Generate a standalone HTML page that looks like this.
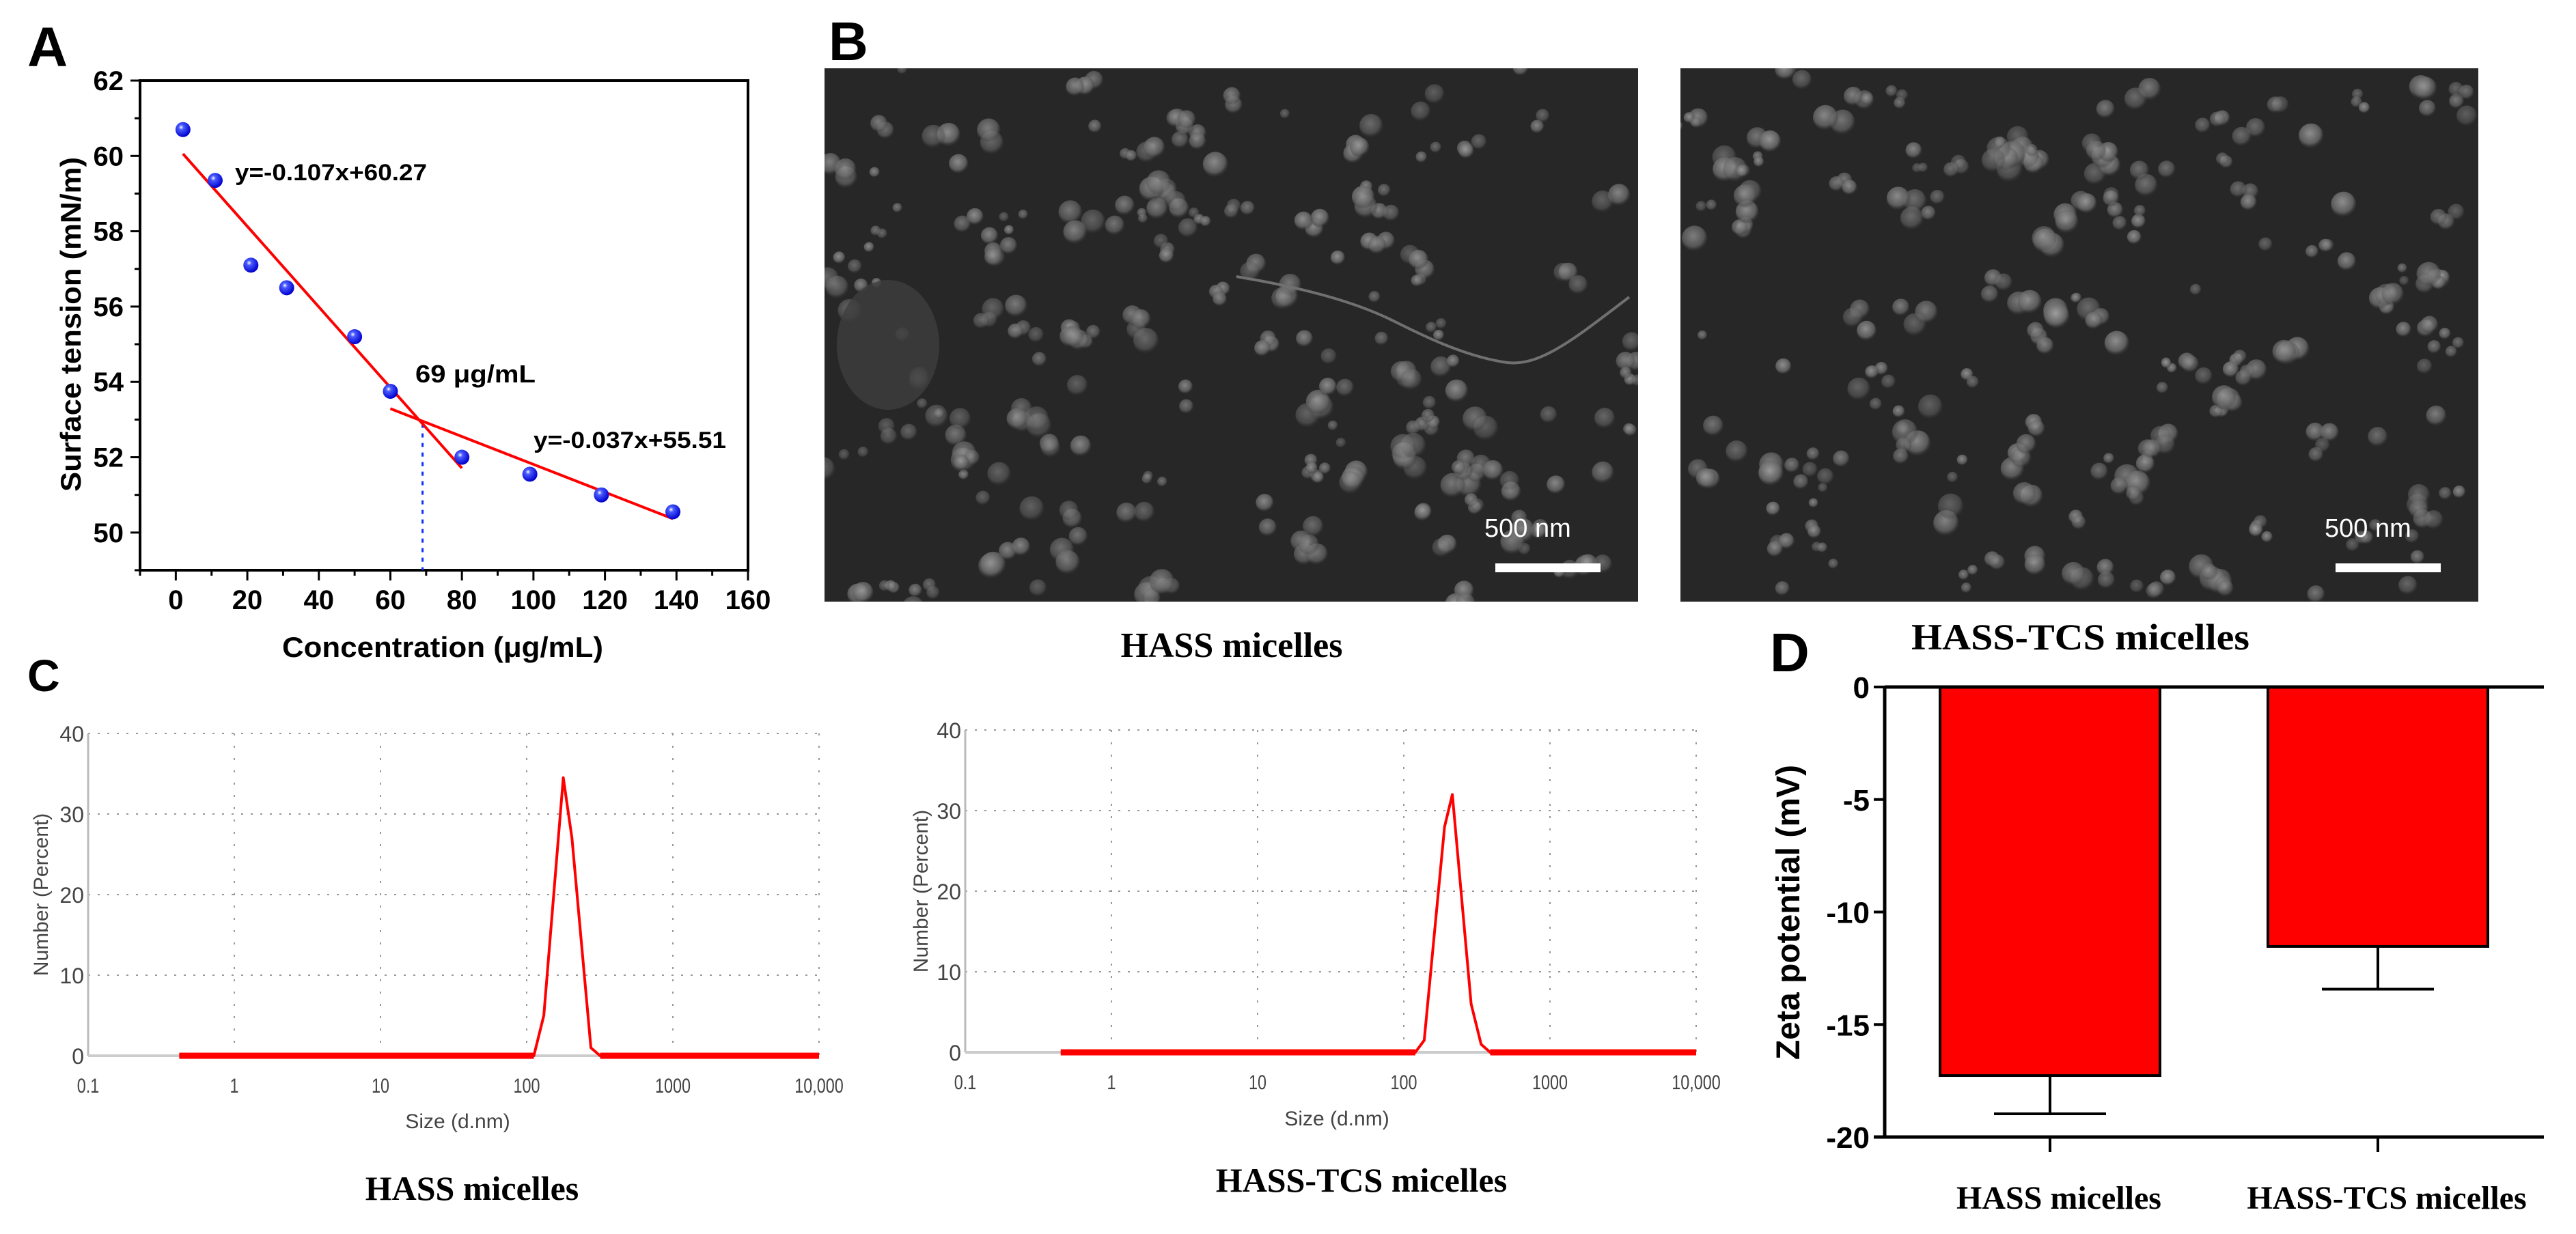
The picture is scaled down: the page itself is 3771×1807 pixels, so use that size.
<!DOCTYPE html>
<html><head><meta charset="utf-8"><style>
html,body{margin:0;padding:0;background:#fff;}
svg{display:block;}
</style></head><body>
<svg id="fig" xmlns="http://www.w3.org/2000/svg" width="3771" height="1807" viewBox="0 0 3771 1807">
<defs>
<radialGradient id="ball" cx="0.38" cy="0.35" r="0.65">
<stop offset="0" stop-color="#ffffff"/><stop offset="0.25" stop-color="#4a5cff"/><stop offset="1" stop-color="#0000cc"/>
</radialGradient>
<radialGradient id="blob" cx="0.45" cy="0.4" r="0.6">
<stop offset="0" stop-color="#a0a0a0"/><stop offset="0.7" stop-color="#666"/><stop offset="1" stop-color="#333" stop-opacity="0.2"/>
</radialGradient>
</defs>
<g id="gA"></g>
<g id="gB"></g>
<g id="gC"></g>
<g id="gD"></g>
</svg>
<script>
// ---- Panel A data ----
const aConc = [2, 11, 21, 31, 50, 60, 80, 99, 119, 139];
const aTension = [60.7, 59.35, 57.1, 56.5, 55.2, 53.75, 52.0, 51.55, 51.0, 50.55];
const aFit1 = [-0.107, 60.27, 2, 80];
const aFit2 = [-0.037, 55.51, 60, 139];
const aCmc = [69];
const aYTicks = [50, 52, 54, 56, 58, 60, 62];
const aXTicks = [0, 20, 40, 60, 80, 100, 120, 140, 160];
// ---- Panel C data ----
const cSizes1 = [0.42, 112, 131, 178, 204, 275, 318, 10000];
const cNumber1 = [0, 0, 5, 34.5, 27, 1, 0, 0];
const cSizes2 = [0.45, 120, 138, 190, 215, 289, 338, 390, 10000];
const cNumber2 = [0, 0, 1.5, 28, 32, 6, 1, 0, 0];
const cYTicks = [0, 10, 20, 30, 40];
const cXTicks = [0.1, 1, 10, 100, 1000, 10000];
const cXLabels = ["0.1", "1", "10", "100", "1000", "10,000"];
// ---- Panel D data ----
const dGroups = ["HASS micelles", "HASS-TCS micelles"];
const dMeans = [-17.27, -11.53];
const dErrors = [1.7, 1.9];
const dYTicks = [0, -5, -10, -15, -20];

const NS = "http://www.w3.org/2000/svg";
function mk(parent, tag, attrs, text) {
  const e = document.createElementNS(NS, tag);
  for (const k in attrs) e.setAttribute(k, attrs[k]);
  if (text !== undefined) e.textContent = text;
  parent.appendChild(e);
  return e;
}
const SANS = "'Liberation Sans', Arial, sans-serif";
const SERIF = "'Liberation Serif', 'Times New Roman', serif";

// ================= Panel A =================
(function () {
  const g = document.getElementById('gA');
  const L = 205, R = 1095, T = 118, B = 835;
  const xmin = -10, xmax = 160, ymin = 49, ymax = 62;
  const X = v => L + (v - xmin) / (xmax - xmin) * (R - L);
  const Y = v => B - (v - ymin) / (ymax - ymin) * (B - T);
  let e;
  e = mk(g, 'text', {x: 40, y: 97, 'font-family': SANS, 'font-weight': 'bold', 'font-size': 82, fill: '#000'}, 'A');
  
  
  e = mk(g, 'rect', {x: L, y: T, width: R - L, height: B - T, fill: 'none', stroke: '#000', 'stroke-width': 4});
  
  
  for (let v = 49; v <= 62; v++) {
    const major = aYTicks.indexOf(v) >= 0;
    e = mk(g, 'line', {x1: L - (major ? 14 : 8), x2: L, y1: Y(v), y2: Y(v), stroke: '#000', 'stroke-width': 3});
    
    
  }
  aYTicks.forEach(v => {
    e = mk(g, 'text', {x: 181, y: Y(v) + 14, 'text-anchor': 'end', 'font-family': SANS, 'font-weight': 'bold', 'font-size': 40}, String(v));
    
    
  });
  for (let v = -10; v <= 160; v += 10) {
    const major = aXTicks.indexOf(v) >= 0;
    e = mk(g, 'line', {x1: X(v), x2: X(v), y1: B, y2: B + (major ? 15 : 8), stroke: '#000', 'stroke-width': 3});
    
    
  }
  aXTicks.forEach(v => {
    e = mk(g, 'text', {x: X(v), y: 892, 'text-anchor': 'middle', 'font-family': SANS, 'font-weight': 'bold', 'font-size': 40}, String(v));
    
    
  });
  e = mk(g, 'text', {x: 648, y: 962, 'text-anchor': 'middle', 'font-family': SANS, 'font-weight': 'bold', 'font-size': 42, textLength: 470, lengthAdjust: 'spacingAndGlyphs'}, 'Concentration (μg/mL)');
  
  
  e = mk(g, 'text', {x: 0, y: 0, transform: 'translate(118,475) rotate(-90)', 'text-anchor': 'middle', 'font-family': SANS, 'font-weight': 'bold', 'font-size': 42, textLength: 490, lengthAdjust: 'spacingAndGlyphs'}, 'Surface tension (mN/m)');
  
  
  const cy = aFit1[0] * aCmc[0] + aFit1[1];
  e = mk(g, 'line', {x1: X(aCmc[0]), x2: X(aCmc[0]), y1: Y(cy), y2: B, stroke: '#1030ff', 'stroke-width': 3, 'stroke-dasharray': '6,8'});
  
  
  [aFit1, aFit2].forEach((f, i) => {
    e = mk(g, 'line', {x1: X(f[2]), y1: Y(f[0] * f[2] + f[1]), x2: X(f[3]), y2: Y(f[0] * f[3] + f[1]), stroke: '#ff0000', 'stroke-width': 4});
    
    
  });
  aConc.forEach((c, i) => {
    e = mk(g, 'circle', {cx: X(c), cy: Y(aTension[i]), r: 11, fill: 'url(#ball)'});
    
    
  });
  e = mk(g, 'text', {x: 344, y: 264, 'font-family': SANS, 'font-weight': 'bold', 'font-size': 34, textLength: 281, lengthAdjust: 'spacingAndGlyphs'}, 'y=-0.107x+60.27');
  
  
  e = mk(g, 'text', {x: 608, y: 560, 'font-family': SANS, 'font-weight': 'bold', 'font-size': 36, textLength: 176, lengthAdjust: 'spacingAndGlyphs'}, '69 μg/mL');
  
  
  e = mk(g, 'text', {x: 781, y: 656, 'font-family': SANS, 'font-weight': 'bold', 'font-size': 34, textLength: 282, lengthAdjust: 'spacingAndGlyphs'}, 'y=-0.037x+55.51');
  
  
})();

// ================= Panel B (SEM images, decorative texture) =================
(function () {
  const g = document.getElementById('gB');
  let e;
  e = mk(g, 'text', {x: 1213, y: 88, 'font-family': SANS, 'font-weight': 'bold', 'font-size': 80}, 'B');
  
  
  const imgs = [
    {x: 1207, w: 1191, seed: 7, name: 'sem-image-hass', bx: 2189, tx: 2173},
    {x: 2460, w: 1168, seed: 19, name: 'sem-image-hass-tcs', bx: 3419, tx: 3403}
  ];
  imgs.forEach(im => {
    const sg = mk(g, 'g', {});
    
    
    mk(sg, 'rect', {x: im.x, y: 100, width: im.w, height: 781, fill: '#272727'});
    let s = im.seed;
    const rnd = () => { s = (s * 1103515245 + 12345) % 2147483648; return s / 2147483648; };
    const clip = 'c' + im.seed;
    const cp = mk(sg, 'clipPath', {id: clip});
    mk(cp, 'rect', {x: im.x, y: 100, width: im.w, height: 781});
    const bg = mk(sg, 'g', {'clip-path': 'url(#' + clip + ')'});
    for (let k = 0; k < 150; k++) {
      const cx = im.x + rnd() * im.w, cy = 100 + rnd() * 781;
      const r = 7 + rnd() * 12;
      const n = 1 + Math.floor(rnd() * 3);
      for (let j = 0; j < n; j++) {
        mk(bg, 'circle', {cx: cx + (rnd() - 0.5) * 34, cy: cy + (rnd() - 0.5) * 34, r: r, fill: 'url(#blob)', opacity: 0.45 + rnd() * 0.4});
      }
    }
    if (im.seed === 7) {
      mk(bg, 'path', {d: 'M1810 405 C1900 420 1980 440 2040 470 C2080 490 2140 520 2200 530 C2250 540 2300 500 2385 435', fill: 'none', stroke: '#707070', 'stroke-width': 4});
      mk(bg, 'ellipse', {cx: 1300, cy: 505, rx: 75, ry: 95, fill: '#3e3e3e', opacity: 0.8});
    }
    e = mk(sg, 'rect', {x: im.bx, y: 825, width: 154, height: 13, fill: '#fff'});
    
    
    e = mk(sg, 'text', {x: im.tx, y: 786, 'font-family': SANS, 'font-size': 38, fill: '#fff'}, '500 nm');
    
    
  });
  e = mk(g, 'text', {x: 1803, y: 962, 'text-anchor': 'middle', 'font-family': SERIF, 'font-weight': 'bold', 'font-size': 52}, 'HASS micelles');
  
  
  e = mk(g, 'text', {x: 2798, y: 951, 'font-family': SERIF, 'font-weight': 'bold', 'font-size': 54, textLength: 495, lengthAdjust: 'spacingAndGlyphs'}, 'HASS-TCS micelles');
  
  
})();

// ================= Panel C =================
(function () {
  const g = document.getElementById('gC');
  let e;
  e = mk(g, 'text', {x: 40, y: 1012, 'font-family': SANS, 'font-weight': 'bold', 'font-size': 66}, 'C');
  
  
  const charts = [
    {L: 129, zero: 1546, sizes: cSizes1, vals: cNumber1, name: 'dls-chart-hass', ytx: 60, cap: 'HASS micelles', capx: 691, capy: 1757, sx: 670, sy: 1652},
    {L: 1413, zero: 1541, sizes: cSizes2, vals: cNumber2, name: 'dls-chart-hass-tcs', ytx: 1348, cap: 'HASS-TCS micelles', capx: 1993, capy: 1745, sx: 1957, sy: 1648}
  ];
  charts.forEach(c => {
    const cg = mk(g, 'g', {});
    
    
    const dec = 214, unit = 11.8;
    const X = v => c.L + (Math.log10(v) + 1) * dec;
    const Y = v => c.zero - v * unit;
    cXTicks.forEach((v, i) => {
      if (i > 0) {
        e = mk(cg, 'line', {x1: X(v), x2: X(v), y1: Y(40), y2: c.zero, stroke: '#999', 'stroke-width': 2, 'stroke-dasharray': '3,15'});
        
        
      }
      e = mk(cg, 'text', {x: X(v), y: c.zero + 54, 'text-anchor': 'middle', 'font-family': "'Liberation Sans Narrow', 'Liberation Sans', sans-serif", 'font-size': 30, fill: '#444', transform: 'translate(' + X(v) + ',0) scale(0.78,1) translate(' + (-X(v)) + ',0)'}, cXLabels[i]);
      
      
    });
    cYTicks.forEach(v => {
      if (v > 0) {
        e = mk(cg, 'line', {x1: c.L, x2: X(10000), y1: Y(v), y2: Y(v), stroke: '#999', 'stroke-width': 2, 'stroke-dasharray': '3,11'});
        
        
      }
      e = mk(cg, 'text', {x: c.L - 6, y: Y(v) + 12, 'text-anchor': 'end', 'font-family': "'Liberation Sans Narrow', 'Liberation Sans', sans-serif", 'font-size': 32, fill: '#444'}, String(v));
      
      
    });
    e = mk(cg, 'line', {x1: c.L, x2: c.L, y1: Y(40), y2: c.zero, stroke: '#bbb', 'stroke-width': 3});
    
    
    e = mk(cg, 'line', {x1: c.L, x2: X(10000), y1: c.zero, y2: c.zero, stroke: '#ccc', 'stroke-width': 4});
    
    
    const pts = c.sizes.map((s, i) => X(s).toFixed(1) + ',' + Y(c.vals[i]).toFixed(1)).join(' ');
    e = mk(cg, 'polyline', {points: pts, fill: 'none', stroke: '#ff0000', 'stroke-width': 4, 'stroke-linejoin': 'round'});
    
    
    const n = c.sizes.length;
    e = mk(cg, 'line', {x1: X(c.sizes[0]), x2: X(c.sizes[1]), y1: Y(0), y2: Y(0), stroke: '#ff0000', 'stroke-width': 9});
    
    
    e = mk(cg, 'line', {x1: X(c.sizes[n - 2]), x2: X(c.sizes[n - 1]), y1: Y(0), y2: Y(0), stroke: '#ff0000', 'stroke-width': 9});
    
    
    e = mk(cg, 'text', {x: 0, y: 0, transform: 'translate(' + (c.ytx + 10) + ',' + Y(20) + ') rotate(-90)', 'text-anchor': 'middle', 'font-family': SANS, 'font-size': 30, fill: '#444'}, 'Number (Percent)');
    
    
    e = mk(cg, 'text', {x: c.sx, y: c.sy, 'text-anchor': 'middle', 'font-family': "'Liberation Sans Narrow', 'Liberation Sans', sans-serif", 'font-size': 30, fill: '#444'}, 'Size (d.nm)');
    
    
    e = mk(cg, 'text', {x: c.capx, y: c.capy, 'text-anchor': 'middle', 'font-family': SERIF, 'font-weight': 'bold', 'font-size': 50}, c.cap);
    
    
  });
})();

// ================= Panel D =================
(function () {
  const g = document.getElementById('gD');
  const L = 2759, R = 3724, T = 1006, B = 1665;
  const Y = v => T + (0 - v) / 20 * (B - T);
  const centers = [3001, 3481];
  const bw = 322;
  let e;
  e = mk(g, 'text', {x: 2591, y: 983, 'font-family': SANS, 'font-weight': 'bold', 'font-size': 80}, 'D');
  
  
  dGroups.forEach((name, i) => {
    const cx = centers[i];
    e = mk(g, 'rect', {x: cx - bw / 2, y: Y(0), width: bw, height: Y(dMeans[i]) - Y(0), fill: '#ff0000', stroke: '#000', 'stroke-width': 4});
    
    
    const ey = Y(dMeans[i] - dErrors[i]);
    e = mk(g, 'line', {x1: cx, x2: cx, y1: Y(dMeans[i]), y2: ey, stroke: '#000', 'stroke-width': 4});
    
    
    e = mk(g, 'line', {x1: cx - 82, x2: cx + 82, y1: ey, y2: ey, stroke: '#000', 'stroke-width': 4});
    
    
    e = mk(g, 'line', {x1: cx, x2: cx, y1: B, y2: B + 22, stroke: '#000', 'stroke-width': 4});
    
    
    e = mk(g, 'text', {x: cx + 13, y: 1770, 'text-anchor': 'middle', 'font-family': SERIF, 'font-weight': 'bold', 'font-size': 48}, name);
    
    
  });
  e = mk(g, 'line', {x1: L, x2: R, y1: T, y2: T, stroke: '#000', 'stroke-width': 5});
  
  
  e = mk(g, 'line', {x1: L - 16, x2: R, y1: B, y2: B, stroke: '#000', 'stroke-width': 5});
  
  
  e = mk(g, 'line', {x1: L, x2: L, y1: T - 2, y2: B + 2, stroke: '#000', 'stroke-width': 5});
  
  
  dYTicks.forEach(v => {
    e = mk(g, 'line', {x1: L - 16, x2: L, y1: Y(v), y2: Y(v), stroke: '#000', 'stroke-width': 4});
    
    
    e = mk(g, 'text', {x: 2737, y: Y(v) + 16, 'text-anchor': 'end', 'font-family': SANS, 'font-weight': 'bold', 'font-size': 44}, String(v));
    
    
  });
  e = mk(g, 'text', {x: 0, y: 0, transform: 'translate(2634,1336) rotate(-90)', 'text-anchor': 'middle', 'font-family': SANS, 'font-weight': 'bold', 'font-size': 48}, 'Zeta potential (mV)');
  
  
})();
</script>
</body></html>
